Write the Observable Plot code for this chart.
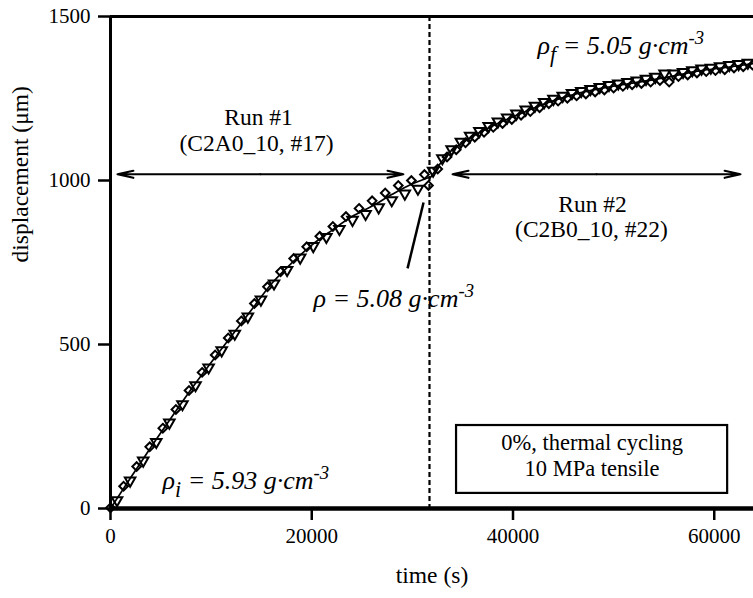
<!DOCTYPE html>
<html><head><meta charset="utf-8">
<script src="https://cdn.jsdelivr.net/npm/d3@7"></script>
<script src="https://cdn.jsdelivr.net/npm/@observablehq/plot@0.6"></script>
<style>
body{margin:0;background:#fff;}
#chart svg{display:block;}
#chart svg, #chart svg text, #chart svg tspan{font-family:"Liberation Serif","Times New Roman",Times,"DejaVu Serif",serif !important;}
</style></head><body><div id="chart"></div>
<script>
// ---- data ----
const xTicks = [0, 20000, 40000, 60000];
const yTicks = [0, 500, 1000, 1500];

const run1Time = [0,650,1300,1950,2600,3250,3900,4550,5200,5850,6500,7150,7800,8450,9100,9750,10400,11050,11700,12350,13000,13650,14300,14950,15600,16250,16900,17550,18200,18850,19500,20150,20800,21450,22100,22750,23400,24050,24700,25350,26000,26650,27300,27950,28600,29250,29900,30550,31200];
const run1Disp = [2,25,68,85,128,146,188,203,245,262,302,318,360,376,415,430,468,482,520,533,572,585,625,637,676,686,722,727,762,765,798,800,830,828,860,852,890,880,915,898,938,918,962,940,985,960,1000,975,1018];

const run2Time = [31600,32060,32520,32980,33440,33900,34360,34820,35280,35740,36200,36660,37120,37580,38040,38500,38960,39420,39880,40340,40800,41260,41720,42180,42640,43100,43560,44020,44480,44940,45400,45860,46320,46780,47240,47700,48160,48620,49080,49540,50000,50460,50920,51380,51840,52300,52760,53220,53680,54140,54600,55060,55520,55980,56440,56900,57360,57820,58280,58740,59200,59660,60120,60580,61040,61500,61960,62420,62880,63340,63800];
const run2Disp = [985,1030,1035,1068,1072,1095,1094,1118,1115,1136,1132,1151,1147,1166,1162,1180,1174,1192,1186,1204,1199,1216,1210,1228,1222,1239,1234,1249,1242,1258,1251,1267,1258,1273,1264,1279,1270,1285,1276,1291,1282,1296,1287,1300,1292,1305,1296,1310,1300,1316,1305,1326,1300,1326,1317,1331,1322,1336,1328,1341,1332,1344,1335,1348,1338,1352,1343,1355,1347,1359,1352];

const fit1Time = [0,2000,4000,6000,8000,10000,12000,14000,16000,18000,20000,22000,24000,26000,28000,30000,31700];
const fit1Disp = [0,94,186,275,363,445,525,605,685,748,803,848,890,922,958,990,1010];
const fit2Time = [31700,32500,33500,35000,36500,38500,41000,43500,46000,49500,52500,55500,58500,61500,64000];
const fit2Disp = [1005,1040,1080,1115,1143,1174,1207,1238,1262,1285,1300,1316,1334,1346,1357];

const switchTime = 31700;

// ---- tables built from the arrays ----
const markers = [
  ...run1Time.map((t, i) => ({t, d: run1Disp[i], k: i})),
  ...run2Time.map((t, i) => ({t, d: run2Disp[i], k: i}))
];
const diamonds = markers.filter(m => m.k % 2 === 0);
const triangles = markers.filter(m => m.k % 2 === 1);
const fit = [
  ...fit1Time.map((t, i) => ({t, d: fit1Disp[i], run: 1})),
  ...fit2Time.map((t, i) => ({t, d: fit2Disp[i], run: 2}))
];

const serif = "Liberation Serif";

const chart = Plot.plot({
  width: 753,
  height: 598,
  marginLeft: 110,
  marginRight: 0,
  marginTop: 16,
  marginBottom: 90,
  style: {fontFamily: serif, fontSize: "20px", color: "black", background: "white"},
  x: {domain: [0, 63900]},
  y: {domain: [0, 1500]},
  marks: [
    Plot.ruleX([switchTime], {stroke: "black", strokeWidth: 2.2, strokeDasharray: "5,3"}),
    Plot.line(fit, {x: "t", y: "d", z: "run", curve: "monotone-x", stroke: "black", strokeWidth: 1.7}),
    Plot.dot(diamonds, {x: "t", y: "d", symbol: "diamond2", r: 3.9, stroke: "black", strokeWidth: 2, fill: "none"}),
    Plot.dot(triangles, {x: "t", y: "d", symbol: "triangle", r: 3.9, rotate: 180, stroke: "black", strokeWidth: 2, fill: "none"}),
    // run arrows (double-headed)
    Plot.arrow([
      {x1: 14900, x2: 700}, {x1: 14900, x2: 29100},
      {x1: 48300, x2: 34000}, {x1: 48300, x2: 62600}
    ], {x1: "x1", x2: "x2", y1: 1019, y2: 1019, stroke: "black", strokeWidth: 2.2, headLength: 11, headAngle: 25}),
    // pointer line
    Plot.link([{x1: 31110, y1: 933, x2: 29520, y2: 732}], {x1: "x1", y1: "y1", x2: "x2", y2: "y2", stroke: "black", strokeWidth: 2.5}),
    // condition box
    Plot.rect([{x1: 34390, x2: 61330, y1: 46, y2: 253}], {x1: "x1", x2: "x2", y1: "y1", y2: "y2", fill: "white", stroke: "black", strokeWidth: 2.2}),
    Plot.text(["0%, thermal cycling", "10 MPa tensile"], {x: 47860, y: [199, 121], text: d => d, fontSize: 22.5, fill: "black"}),
    // run labels
    Plot.text(["Run #1", "(C2A0_10, #17)"], {x: [14710, 14510], y: [1191, 1112], text: d => d, fontSize: 23.5, fill: "black"}),
    Plot.text(["Run #2", "(C2B0_10, #22)"], {x: [47900, 47800], y: [926, 852], text: d => d, fontSize: 23.5, fill: "black"}),
    // density labels
    Plot.text(["ρ_i = 5.93 g·cm^-3", "ρ = 5.08 g·cm^-3", "ρ_f = 5.05 g·cm^-3"], {
      x: [5170, 20180, 42440], y: [85, 640, 1412], text: d => d, textAnchor: "start",
      fontSize: 26, fontStyle: "italic", fill: "black"
    }),
    // frame
    Plot.ruleY([1500], {stroke: "black", strokeWidth: 3}),
    Plot.ruleX([0], {stroke: "black", strokeWidth: 3}),
    Plot.ruleY([0], {stroke: "black", strokeWidth: 4.5}),
    // axes
    Plot.axisX(xTicks, {tickSize: 12, tickPadding: 8, fontSize: 21, strokeWidth: 2.5, label: null, tickFormat: d => `${d}`}),
    Plot.axisY(yTicks, {tickSize: 12, tickPadding: 8, fontSize: 21, strokeWidth: 2.5, label: null, tickFormat: d => `${d}`}),
    Plot.text(["time (s)"], {frameAnchor: "bottom", dy: 74, text: d => d, fontSize: 23.5, fill: "black"}),
    Plot.text(["displacement (μm)"], {frameAnchor: "left", dx: -90, rotate: -90, text: d => d, fontSize: 23.5, fill: "black"})
  ]
});

// turn _x into subscript and ^x into superscript (as real text tspans)
const NS = "http://www.w3.org/2000/svg";
chart.querySelectorAll("text").forEach(t => {
  const s = t.textContent;
  if (!/[_^]/.test(s) || s.includes("C2")) return;
  t.textContent = "";
  const re = /_(\w)|\^(\S+)|([^_^]+)/g;
  let m, shift = 0;
  while ((m = re.exec(s))) {
    const ts = document.createElementNS(NS, "tspan");
    if (m[1]) {
      ts.textContent = m[1]; ts.setAttribute("dy", 8 - shift); shift = 8; ts.setAttribute("font-size", "0.85em");
    } else if (m[2]) {
      ts.textContent = m[2]; ts.setAttribute("dy", -10 - shift); shift = -10; ts.setAttribute("font-size", "0.72em");
    } else {
      ts.textContent = m[3]; ts.setAttribute("dy", -shift); shift = 0;
    }
    t.appendChild(ts);
  }
});

document.getElementById("chart").appendChild(chart);
</script></body></html>
